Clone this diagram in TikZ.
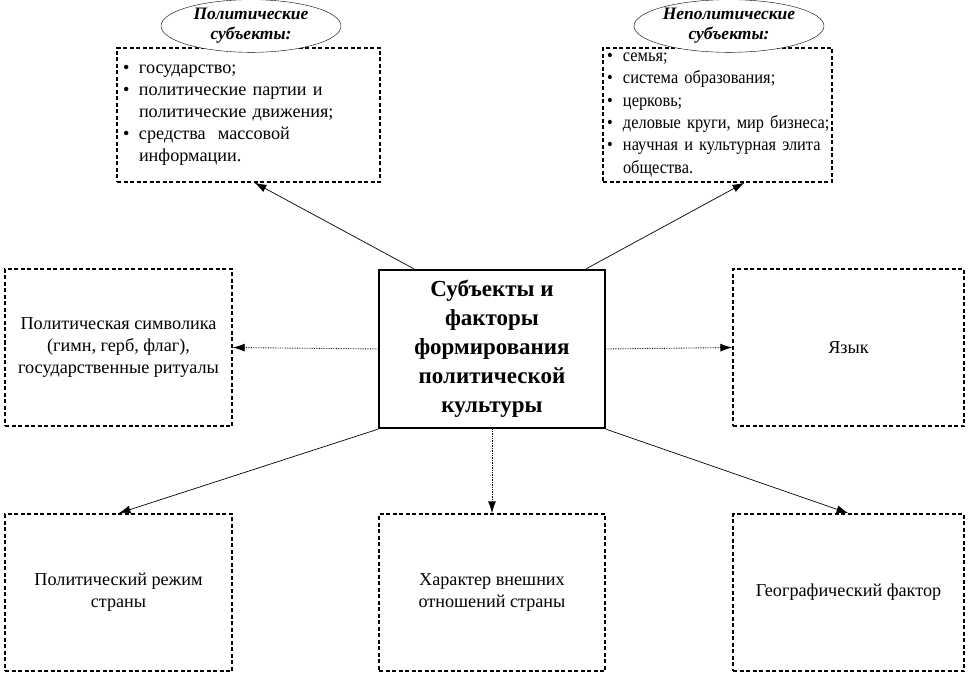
\documentclass[tikz,border=0pt]{standalone}
\usepackage{fontspec}
\setmainfont{Liberation Serif}
\usetikzlibrary{arrows.meta,shapes.geometric}
\newcommand{\bul}{\makebox[16pt][l]{\textbullet}}
\newcommand{\ind}{\hspace*{16pt}}

\begin{document}
\begin{tikzpicture}[x=1pt,y=-1pt,
	factor/.style={draw, line width=1.4pt, dash pattern=on 4pt off 2.5pt, minimum width=227pt, minimum height=157pt, align=center, font=\fontsize{18.2}{22}\selectfont},
	listbox/.style={draw, line width=1.4pt, dash pattern=on 4pt off 2.5pt, align=left, inner ysep=1pt, font=\fontsize{18.2}{22}\selectfont},
	head/.style={ellipse, draw, thin, fill=white, align=center, inner sep=1pt, font=\fontsize{17.5}{20}\selectfont\bfseries\itshape},
	link/.style={-{Latex[length=12pt,width=8pt]}, line width=0.7pt},
	dotlink/.style={link, densely dotted, line width=0.9pt}]
\useasboundingbox (0,0) rectangle (970,674);
\node [draw, line width=2.6pt, minimum width=226pt, minimum height=158pt, align=center, font=\fontsize{23}{29}\selectfont\bfseries] (subj) at (492,349) {Субъекты и\\факторы\\формирования\\политической\\культуры};
% top
\node [listbox, minimum width=263pt, minimum height=134pt, text width=251pt, inner xsep=6pt] (pol) at (248.5,115) {\bul государство;\\ \bul политические партии и\\ \ind политические движения;\\ \bul средства\ \ массовой\\ \ind информации.};
\node [listbox, minimum width=229pt, minimum height=134pt, text width=221pt, inner xsep=4pt, font=\fontsize{18.2}{22.4}\selectfont\addfontfeature{FakeStretch=0.9}] (nonpol) at (717.5,115) {\bul семья;\\ \bul система образования;\\ \bul церковь;\\ \bul \mbox{деловые круги, мир бизнеса;}\\ \bul \mbox{научная и культурная элита}\\ \ind общества.};
\node [head, minimum width=180pt, minimum height=46pt] (polhead) at (251,26) {Политические\\субъекты:};
\node [head, minimum width=162pt, minimum height=46pt] (nonpolhead) at (729,26) {Неполитические\\субъекты:};
% middle
\node [factor] (symb) at (118.5,347.5) {Политическая символика\\(гимн, герб, флаг),\\государственные ритуалы};
\node [factor, minimum width=231pt] (lang) at (848.5,347.5) {Язык};
% bottom
\node [factor] (regime) at (118.5,592.5) {Политический режим\\страны};
\node [factor, minimum width=226pt] (ext) at (492,592.5) {Характер внешних\\отношений страны};
\node [factor, minimum width=231pt] (geo) at (848.5,592.5) {Географический фактор};
% arrows
\draw [link] ([xshift=36pt]subj.north west) -- ([xshift=6pt]pol.south);
\draw [link] ([xshift=-20pt]subj.north east) -- ([xshift=27pt]nonpol.south);
\draw [dotlink] (subj.west) -- (symb.east);
\draw [dotlink] (subj.east) -- (lang.west);
\draw [link] (subj.south west) -- (regime.north);
\draw [dotlink] (subj.south) -- (ext.north);
\draw [link] (subj.south east) -- (geo.north);
\end{tikzpicture}
\end{document}
